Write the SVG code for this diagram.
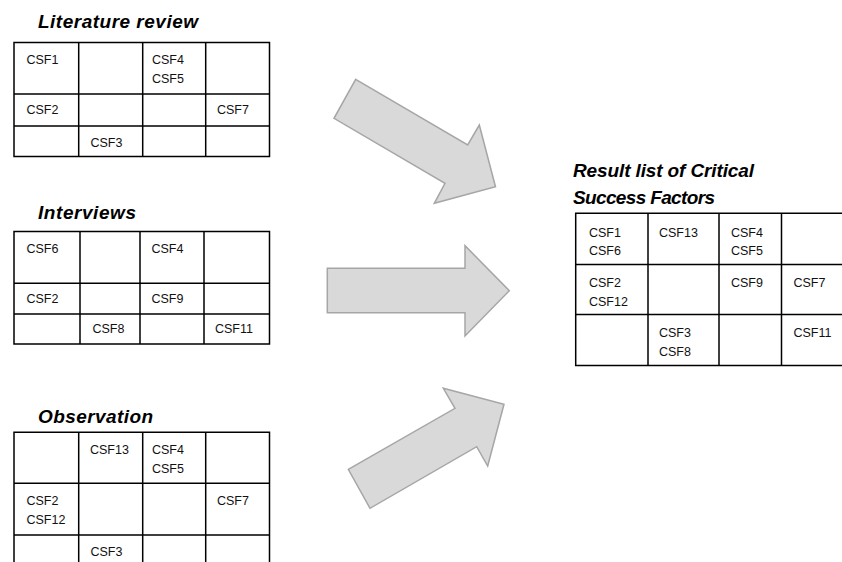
<svg xmlns="http://www.w3.org/2000/svg" width="842" height="562" viewBox="0 0 842 562">
<style>
.grid{fill:none;stroke:#000;stroke-width:1.5}
.t{font-family:"Liberation Sans",Arial,sans-serif;font-size:12.5px;fill:#111}
.h{font-family:"Liberation Sans",Arial,sans-serif;font-size:19px;font-weight:bold;font-style:italic;fill:#000}
.arrow{fill:#d9d9d9;stroke:#a6a6a6;stroke-width:1.5;stroke-linejoin:miter}
</style>
<rect width="842" height="562" fill="#fff"/>

<g id="literature-review">
  <text class="h" x="38" y="28" textLength="160">Literature review</text>
  <path class="grid" d="M14,42.5H269.5V156.5H14Z M78.7,42.5V156.5 M142.7,42.5V156.5 M205.7,42.5V156.5 M14,94H269.5 M14,126H269.5"/>
  <text class="t" x="26.5" y="64">CSF1</text>
  <text class="t" x="152" y="64">CSF4</text>
  <text class="t" x="152" y="82.5">CSF5</text>
  <text class="t" x="26.5" y="114">CSF2</text>
  <text class="t" x="217" y="114">CSF7</text>
  <text class="t" x="90.5" y="147">CSF3</text>
</g>

<g id="interviews">
  <text class="h" x="38" y="218.5" textLength="98">Interviews</text>
  <path class="grid" d="M14,231.5H269.5V344H14Z M80,231.5V344 M140,231.5V344 M204,231.5V344 M14,283.3H269.5 M14,314H269.5"/>
  <text class="t" x="26.5" y="253">CSF6</text>
  <text class="t" x="151.5" y="253">CSF4</text>
  <text class="t" x="26.5" y="303">CSF2</text>
  <text class="t" x="151.5" y="303">CSF9</text>
  <text class="t" x="92.5" y="333">CSF8</text>
  <text class="t" x="215" y="333">CSF11</text>
</g>

<g id="observation">
  <text class="h" x="38" y="422.5" textLength="115">Observation</text>
  <path class="grid" d="M14,432.3H269.5V590H14Z M78.7,432.3V590 M142.7,432.3V590 M205.7,432.3V590 M14,483.3H269.5 M14,535H269.5"/>
  <text class="t" x="90" y="453.5">CSF13</text>
  <text class="t" x="152" y="453.5">CSF4</text>
  <text class="t" x="152" y="472.5">CSF5</text>
  <text class="t" x="217" y="504.5">CSF7</text>
  <text class="t" x="26.5" y="504.5">CSF2</text>
  <text class="t" x="26.5" y="524">CSF12</text>
  <text class="t" x="90.5" y="555.5">CSF3</text>
</g>

<g id="result-list">
  <text class="h" x="573" y="176.5" textLength="181">Result list of Critical</text>
  <text class="h" x="573" y="203.5" textLength="142">Success Factors</text>
  <path class="grid" d="M575.7,213.3H860V365.5H575.7Z M648,213.3V365.5 M719,213.3V365.5 M781.5,213.3V365.5 M575.7,264.5H860 M575.7,314.5H860"/>
  <text class="t" x="589" y="236.5">CSF1</text>
  <text class="t" x="589" y="255">CSF6</text>
  <text class="t" x="659" y="236.5">CSF13</text>
  <text class="t" x="731" y="236.5">CSF4</text>
  <text class="t" x="731" y="255">CSF5</text>
  <text class="t" x="589" y="287">CSF2</text>
  <text class="t" x="589" y="305.5">CSF12</text>
  <text class="t" x="731" y="287">CSF9</text>
  <text class="t" x="793.5" y="287">CSF7</text>
  <text class="t" x="659" y="337">CSF3</text>
  <text class="t" x="659" y="355.5">CSF8</text>
  <text class="t" x="793.5" y="337">CSF11</text>
</g>

<g id="connectors">
  <polygon class="arrow" points="355.7,79.3 467.7,145 479.3,125 495.5,186.7 434.3,203.3 445,183.3 334,118.3"/>
  <polygon class="arrow" points="327.3,268.3 465,268.3 465,245.7 509.3,290.7 465,336 465,312.7 327.3,312.7"/>
  <polygon class="arrow" points="348.3,469.3 455,408.3 443.3,388.3 504,404.3 487.7,466 476.7,446.7 370,508.3"/>
</g>
</svg>
